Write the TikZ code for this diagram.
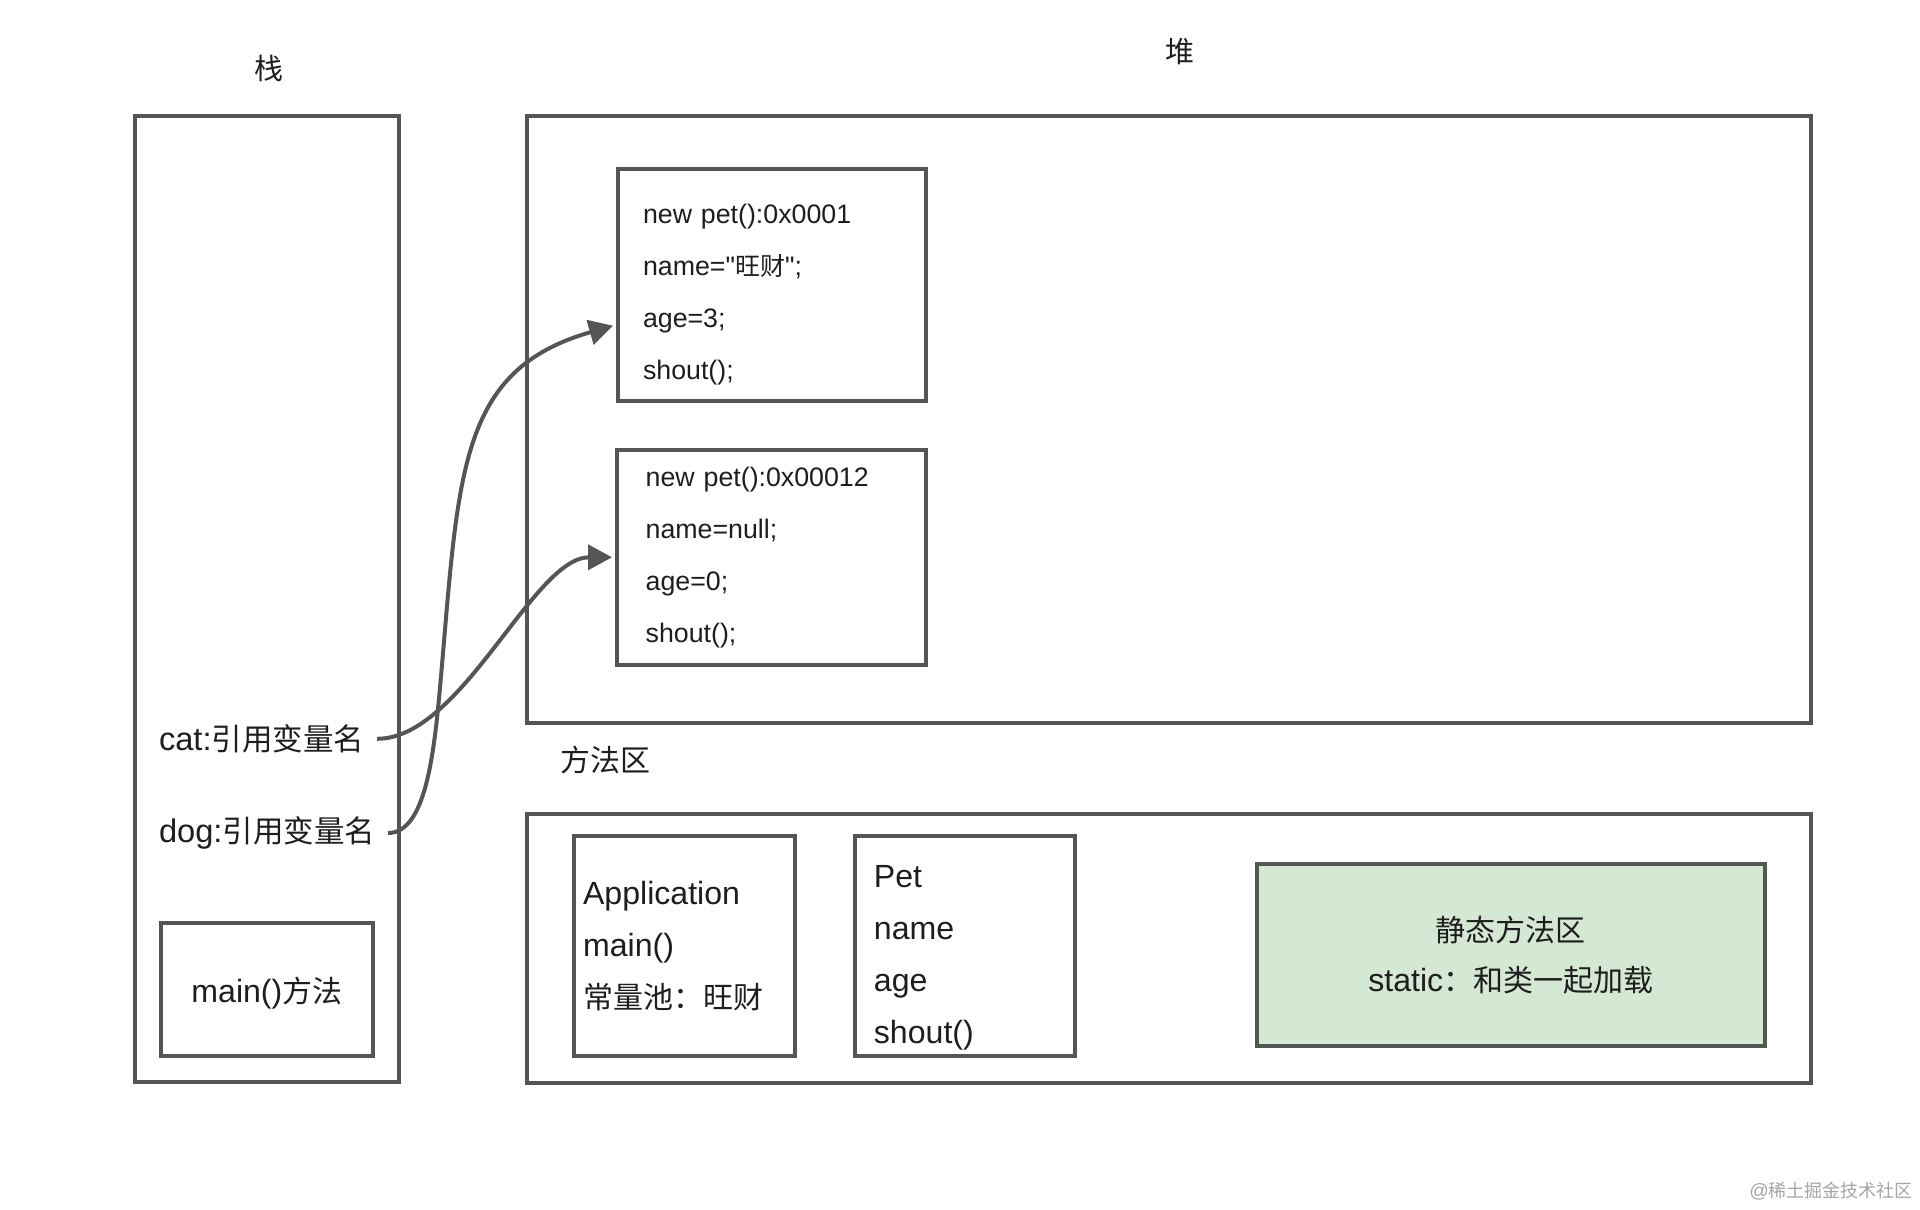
\documentclass[tikz,border=0pt]{standalone}
\usepackage{fontspec}
\setmainfont{Liberation Sans}[Scale=1.07, Ligatures=TeXOff]
\newfontfamily\cjk{Noto Sans CJK SC}
\newcommand{\zh}[1]{{\cjk #1}}
\usepackage{tikz}
\usetikzlibrary{arrows.meta, positioning, calc}
\definecolor{linegray}{RGB}{85,85,85}
\definecolor{textdark}{RGB}{30,30,30}
\definecolor{staticgreen}{RGB}{213,232,212}
\definecolor{markgray}{RGB}{165,165,165}

\tikzset{
  region/.style={draw=linegray, line width=4pt, inner sep=0pt, text=textdark},
  memrow/.style={region, align=left, font=\fontsize{25}{52}\selectfont},
  classrow/.style={region, align=left, font=\fontsize{30}{52}\selectfont},
  areatitle/.style={font=\fontsize{29}{34}\selectfont, text=textdark, inner sep=0pt},
  varname/.style={font=\fontsize{30.5}{36}\selectfont, text=textdark, inner sep=0pt, outer xsep=13pt, anchor=west},
  ref/.style={draw=linegray, line width=4pt, shorten >=3pt, -{Triangle[length=24pt,width=25pt]}},
}

\begin{document}
\begin{tikzpicture}[x=1pt,y=-1pt]
\fill[white] (0,0) rectangle (1920,1210);
\useasboundingbox (0,0) rectangle (1920,1210);

% stack
\node[areatitle] (stacktitle) at (269.3,68.7) {\zh{栈}};
\node[region, minimum width=264.6pt, minimum height=965.9pt] (stack) at (267,598.75) {};
\node[varname] (catref) at (146,738.8) {cat:\zh{引用变量名}};
\node[varname] (dogref) at (146,833) {dog:\zh{引用变量名}};
\node[region, font=\fontsize{30}{36}\selectfont, minimum width=211.7pt, minimum height=132.4pt]
  (mainframe) at (266.9,989.5) {\rule{0pt}{33pt}main()\zh{方法}};

% heap
\node[areatitle] (heaptitle) at (1180,51.7) {\zh{堆}};
\node[region, minimum width=1284.2pt, minimum height=606.9pt] (heap) at (1168.6,419.25) {};
\node[memrow, inner xsep=25pt, text width=258pt, minimum width=308pt, minimum height=231.7pt]
  (pet1) at (772,284.9) {\rule{0pt}{38pt}new pet():0x0001\\ name="\zh{旺财}";\\ age=3;\\ shout();};
\node[memrow, inner xsep=28.7pt, text width=251.6pt, minimum width=309pt, minimum height=215.3pt]
  (pet2) at (771.5,557.3) {new pet():0x00012\\ name=null;\\ age=0;\\ shout();};

% method area
\node[areatitle, font=\fontsize{30}{36}\selectfont] (methodtitle) at (605.6,760) {\zh{方法区}};
\node[region, minimum width=1284.2pt, minimum height=268.7pt] (method) at (1168.6,948.35) {};
\node[classrow, inner xsep=8.8pt, text width=202.9pt, minimum width=220.5pt, minimum height=219.7pt]
  (appclass) at (684.5,945.7) {Application\\ main()\\ \zh{常量池：旺财}};
\node[classrow, inner xsep=19pt, text width=182pt, minimum width=220pt, minimum height=219.7pt]
  (petclass) at (964.9,945.7) {\rule{0pt}{47pt}Pet\\ name\\ age\\ shout()};
\node[region, fill=staticgreen, align=center, font=\fontsize{30}{50}\selectfont,
  minimum width=508pt, minimum height=181.4pt]
  (staticarea) at (1510.8,955.1) {\zh{静态方法区}\\ static\zh{：和类一起加载}};

% references
\coordinate (dogbend) at (442,665);
\draw[ref] (catref.east) .. controls +(85,0) and +(-82,0) .. (pet2.west);
\draw[ref] (dogref.east) .. controls +(40,0) and +(-7,80) .. (dogbend)
  .. controls +(17,-199) and +(-154,44) .. ([yshift=-40pt]pet1.west);

\node[anchor=east, font=\fontsize{18}{22}\selectfont, text=markgray, inner sep=0pt]
  (mark) at (1913,1191) {@\zh{稀土掘金技术社区}};
\end{tikzpicture}
\end{document}
